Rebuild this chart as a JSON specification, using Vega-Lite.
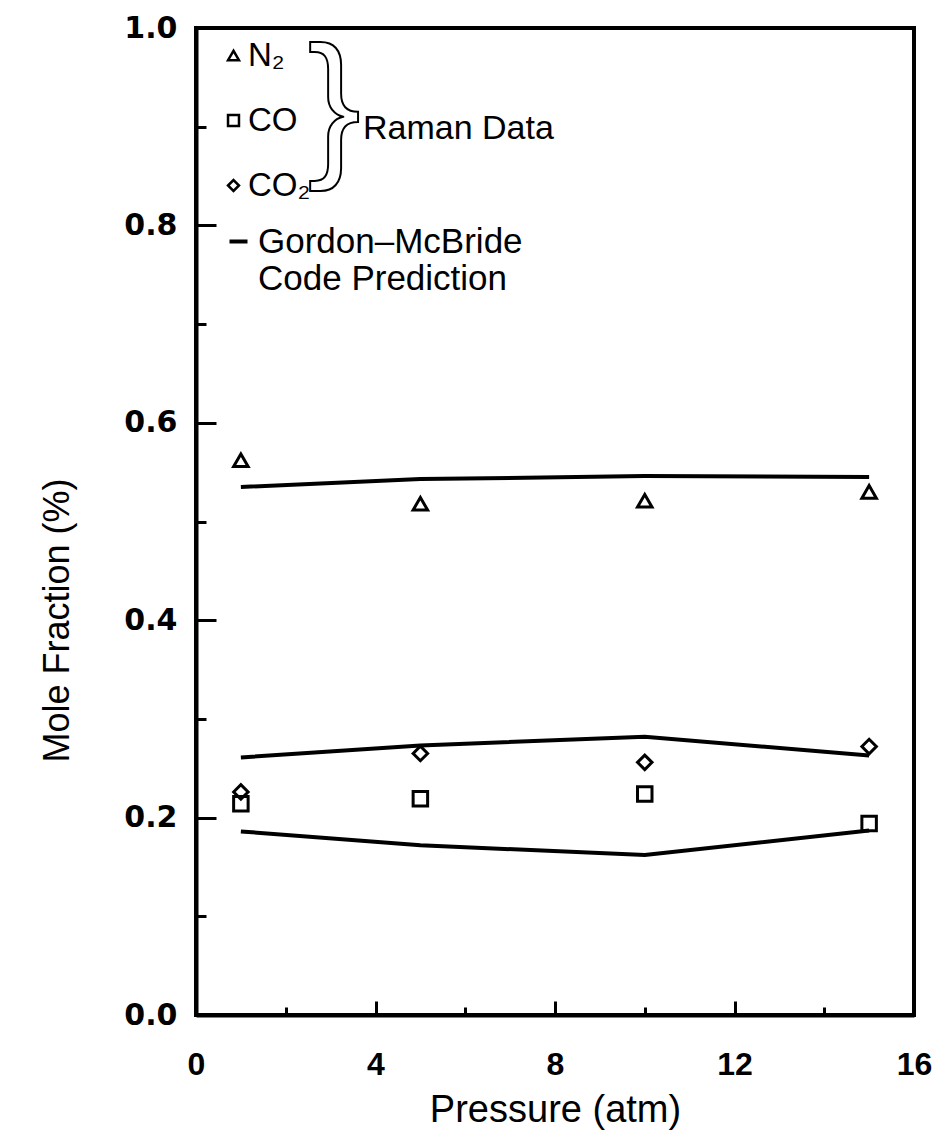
{
  "$schema": "https://vega.github.io/schema/vega-lite/v6.json",
  "autosize": {"type": "none"},
  "padding": {"left": 196, "top": 28, "right": 22, "bottom": 126},
  "width": 718,
  "height": 987,
  "background": "white",
  "config": {
    "view": {"stroke": "black", "strokeWidth": 4},
    "font": "Liberation Sans",
    "axis": {"grid": false, "domainColor": "black", "domainWidth": 4, "tickColor": "black", "tickWidth": 3, "labelColor": "black", "titleColor": "black", "labelFlush": false, "labelOverlap": false}
  },
  "datasets": {
    "raman": [
      {"pressure": 1, "species": "N₂", "fraction": 0.562},
      {"pressure": 5, "species": "N₂", "fraction": 0.518},
      {"pressure": 10, "species": "N₂", "fraction": 0.521},
      {"pressure": 15, "species": "N₂", "fraction": 0.530},
      {"pressure": 1, "species": "CO", "fraction": 0.214},
      {"pressure": 5, "species": "CO", "fraction": 0.219},
      {"pressure": 10, "species": "CO", "fraction": 0.224},
      {"pressure": 15, "species": "CO", "fraction": 0.194},
      {"pressure": 1, "species": "CO₂", "fraction": 0.226},
      {"pressure": 5, "species": "CO₂", "fraction": 0.265},
      {"pressure": 10, "species": "CO₂", "fraction": 0.256},
      {"pressure": 15, "species": "CO₂", "fraction": 0.272}
    ],
    "gm": [
      {"pressure": 1, "species": "N₂", "fraction": 0.535},
      {"pressure": 5, "species": "N₂", "fraction": 0.543},
      {"pressure": 10, "species": "N₂", "fraction": 0.546},
      {"pressure": 15, "species": "N₂", "fraction": 0.545},
      {"pressure": 1, "species": "CO₂", "fraction": 0.261},
      {"pressure": 5, "species": "CO₂", "fraction": 0.273},
      {"pressure": 10, "species": "CO₂", "fraction": 0.282},
      {"pressure": 15, "species": "CO₂", "fraction": 0.263},
      {"pressure": 1, "species": "CO", "fraction": 0.186},
      {"pressure": 5, "species": "CO", "fraction": 0.172},
      {"pressure": 10, "species": "CO", "fraction": 0.162},
      {"pressure": 15, "species": "CO", "fraction": 0.187}
    ]
  },
  "resolve": {"axis": {"x": "independent", "y": "independent"}},
  "layer": [
    {
      "data": {"name": "gm"},
      "mark": {"type": "line", "strokeWidth": 4},
      "encoding": {
        "x": {"field": "pressure", "type": "quantitative", "scale": {"domain": [0, 16]},
          "axis": {"values": [0, 4, 8, 12, 16], "tickSize": -14, "labelPadding": 48, "labelFont": "Liberation Sans", "labelFontSize": 32, "labelFontWeight": "bold", "title": "Pressure (atm)", "titleFont": "Liberation Sans", "titleFontSize": 38, "titleFontWeight": "normal", "titleY": 76}},
        "y": {"field": "fraction", "type": "quantitative", "scale": {"domain": [0, 1]},
          "axis": {"values": [0, 0.2, 0.4, 0.6, 0.8, 1.0], "format": ".1f", "tickSize": -20, "labelPadding": 39, "labelFont": "DejaVu Sans", "labelFontSize": 30, "labelFontWeight": "bold", "title": "Mole Fraction (%)", "titleFont": "Liberation Sans", "titleFontSize": 36, "titleFontWeight": "normal", "titleX": -120, "titleY": 592}},
        "detail": {"field": "species"},
        "color": {"datum": "Gordon–McBride", "type": "nominal", "scale": {"range": ["black"]},
          "legend": {"title": null, "orient": "none", "legendX": 25, "legendY": 196, "symbolType": "stroke", "symbolSize": 324, "symbolStrokeWidth": 4, "labelFontSize": 35, "labelFont": "Liberation Sans", "labelOffset": 2, "labelLimit": 600, "padding": 0, "labelColor": "black", "labelExpr": "['Gordon–McBride', 'Code Prediction']"}}
      }
    },
    {
      "data": {"name": "raman"},
      "mark": {"type": "point", "filled": false, "stroke": "black", "strokeWidth": 3, "size": 210, "opacity": 1},
      "encoding": {
        "x": {"field": "pressure", "type": "quantitative", "scale": {"domain": [0, 16]},
          "axis": {"orient": "bottom", "values": [2, 6, 10, 14], "tickSize": -8, "labels": false, "domain": false, "title": null}},
        "y": {"field": "fraction", "type": "quantitative", "scale": {"domain": [0, 1]},
          "axis": {"orient": "left", "values": [0.1, 0.3, 0.5, 0.7, 0.9], "tickSize": -10, "labels": false, "domain": false, "title": null}},
        "shape": {"field": "species", "type": "nominal", "scale": {"domain": ["N₂", "CO", "CO₂"], "range": ["triangle-up", "square", "diamond"]},
          "legend": {"title": null, "orient": "none", "legendX": 21, "legendY": 11, "labelFontSize": 33, "labelFont": "Liberation Sans", "symbolSize": 120, "rowPadding": 31, "labelOffset": -2, "padding": 0, "symbolStrokeWidth": 2.5, "symbolStrokeColor": "black", "symbolFillColor": "white", "labelColor": "black"}}
      }
    },
    {
      "data": {"values": [{"label": "}"}]},
      "mark": {"type": "text", "font": "Liberation Sans", "fontSize": 160, "fill": "white", "stroke": "black", "strokeWidth": 2, "align": "center", "baseline": "alphabetic"},
      "encoding": {
        "x": {"datum": 3.08, "type": "quantitative", "scale": {"domain": [0, 16]}, "axis": null},
        "y": {"datum": 0.868, "type": "quantitative", "scale": {"domain": [0, 1]}, "axis": null},
        "text": {"field": "label"}
      }
    },
    {
      "data": {"values": [{"label": "Raman Data"}]},
      "mark": {"type": "text", "font": "Liberation Sans", "fontSize": 34, "fill": "black", "align": "left", "baseline": "middle"},
      "encoding": {
        "x": {"datum": 3.72, "type": "quantitative", "scale": {"domain": [0, 16]}, "axis": null},
        "y": {"datum": 0.898, "type": "quantitative", "scale": {"domain": [0, 1]}, "axis": null},
        "text": {"field": "label"}
      }
    }
  ]
}
